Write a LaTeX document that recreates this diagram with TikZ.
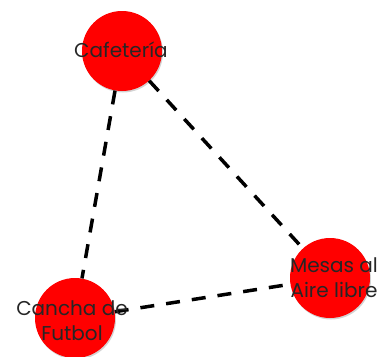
\documentclass[tikz,border=0pt]{standalone}
\usepackage{fontspec}
\setmainfont{Poppins}
\usetikzlibrary{shadows}
\begin{document}
\begin{tikzpicture}[x=1pt, y=-1pt,
    place/.style={circle, fill=red, minimum size=80pt, inner sep=0pt,
        drop shadow={opacity=0.35, shadow xshift=1pt, shadow yshift=-1.5pt}},
    tag/.style={font=\fontsize{20}{25}\selectfont, text=black!85, align=center},
    link/.style={line width=3.5pt, dash pattern=on 14pt off 12pt},
]
\useasboundingbox (0,0) rectangle (385,356);

% places
\node[place] (cafe) at (122,51) {};
\node[place] (mesas) at (330,278) {};
\node[place] (cancha) at (75,318) {};

% dashed links
\draw[link] (cafe) -- (cancha);
\draw[link] (cafe) -- (mesas);
\draw[link] (cancha) -- (mesas);

% labels
\node[tag] (cafeTag) at (121,50) {Cafetería};
\node[tag] (mesasTag) at (334,278) {Mesas al\\Aire libre};
\node[tag] (canchaTag) at (72,321) {Cancha de\\Futbol};
\end{tikzpicture}
\end{document}
